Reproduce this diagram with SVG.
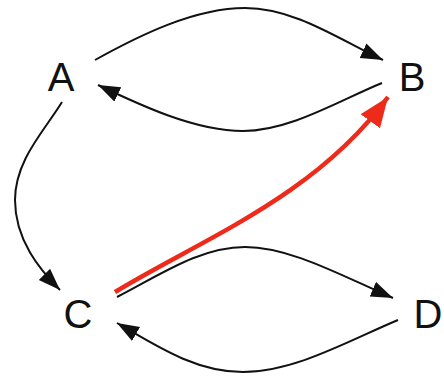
<svg xmlns="http://www.w3.org/2000/svg" width="444" height="378" viewBox="0 0 444 378">
<defs>
<style>
.lbl{font-family:"Liberation Sans",Arial,sans-serif;font-size:40px;fill:#111;text-anchor:middle}
.e{fill:none;stroke:#111;stroke-width:2}
.r{fill:none;stroke:#ee2a1a;stroke-width:4.5}
</style>
<marker id="ah" markerUnits="userSpaceOnUse" markerWidth="24" markerHeight="18" refX="22" refY="8" orient="auto"><path d="M0,0 L22,8 L0,16 z" fill="#111"/></marker>
<marker id="rh" markerUnits="userSpaceOnUse" markerWidth="34" markerHeight="28" refX="30" refY="12" orient="auto"><path d="M0,0 L30,12 L0,24 z" fill="#ee2a1a"/></marker>
</defs>
<g id="edges">
<path class="e" d="M95,60 C140,35 195,8 245,8 C295,8 340,40 383,60" marker-end="url(#ah)"/>
<path class="e" d="M382,83 C340,100 290,131 243,131 C195,131 140,105 98,85" marker-end="url(#ah)"/>
<path class="e" d="M62,102 C45,130 15,160 15,200 C15,240 40,270 60,290" marker-end="url(#ah)"/>
<path class="e" d="M117,297 C160,275 200,247 245,247 C290,247 340,275 393,298" marker-end="url(#ah)"/>
<path class="e" d="M398,320 C350,340 295,372 243,372 C195,372 155,345 117,323" marker-end="url(#ah)"/>
<path class="r" d="M115,292 C200,240 315,197 388,97" marker-end="url(#rh)"/>
</g>
<g id="A"><text class="lbl" x="61" y="91">A</text></g>
<g id="B"><text class="lbl" x="412" y="91">B</text></g>
<g id="C"><text class="lbl" x="78" y="328">C</text></g>
<g id="D"><text class="lbl" x="428" y="328">D</text></g>
</svg>
